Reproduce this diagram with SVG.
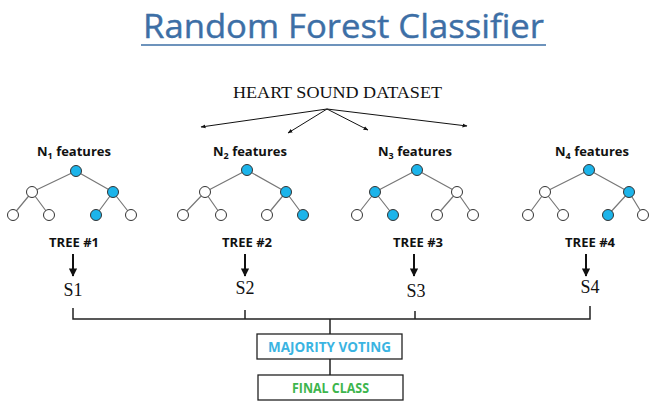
<svg xmlns="http://www.w3.org/2000/svg" width="651" height="403" viewBox="0 0 651 403">
<style>
.title{font-family:"Open Sans","Liberation Sans",sans-serif;font-size:33px;fill:#3d6fa6;stroke:#3d6fa6;stroke-width:0.4}
.serif{font-family:"Liberation Serif",serif;fill:#111}
.lbl{font-family:"Open Sans","Liberation Sans",sans-serif;font-weight:bold;font-size:13px;fill:#111}
.tl{font-family:"Open Sans","Liberation Sans",sans-serif;font-weight:bold;font-size:12.5px;fill:#111}
.e{stroke:#777;stroke-width:1.2}
.w{fill:#fff;stroke:#333;stroke-width:1}
.b{fill:#1cb4ea;stroke:#333;stroke-width:1}
.ln{stroke:#222;stroke-width:1.5;fill:none}
.box{fill:#fff;stroke:#222;stroke-width:1.3}
.bt{font-family:"Open Sans","Liberation Sans",sans-serif;font-weight:bold;font-size:13.5px}
</style>
<defs>
<marker id="sm" viewBox="0 0 10 10" refX="9" refY="5" markerWidth="5" markerHeight="5" orient="auto"><path d="M0,1 L10,5 L0,9 z" fill="#111"/></marker>
<marker id="big" viewBox="0 0 10 10" refX="9" refY="5" markerWidth="4.2" markerHeight="4.2" orient="auto"><path d="M0,0 L10,5 L0,10 z" fill="#111"/></marker>
</defs>
<rect width="651" height="403" fill="#fff"/>
<g id="title">
<text class="title" x="143" y="38" textLength="401" lengthAdjust="spacingAndGlyphs">Random Forest Classifier</text>
<line x1="141" y1="45" x2="546" y2="45" stroke="#3d6fa6" stroke-width="1.5"/>
</g>
<g id="dataset"><text class="serif" x="233" y="98" font-size="16.5" textLength="209" lengthAdjust="spacingAndGlyphs">HEART SOUND DATASET</text></g>
<g id="connectors">
<g fill="none" stroke="#111" stroke-width="1">
<line x1="327" y1="109" x2="201" y2="127" marker-end="url(#sm)"/>
<line x1="327" y1="109" x2="288" y2="133" marker-end="url(#sm)"/>
<line x1="327" y1="109" x2="368" y2="130" marker-end="url(#sm)"/>
<line x1="327" y1="109" x2="467" y2="126" marker-end="url(#sm)"/>
</g>
<g stroke="#111" stroke-width="2">
<line x1="73" y1="254" x2="73" y2="276" marker-end="url(#big)"/>
<line x1="245" y1="254" x2="245" y2="276" marker-end="url(#big)"/>
<line x1="414" y1="254" x2="414" y2="276" marker-end="url(#big)"/>
<line x1="586" y1="254" x2="586" y2="276" marker-end="url(#big)"/>
</g>
<path class="ln" d="M73,308 V319 H590 V306 M245,310 V319 M415,311 V319 M330,319 V334 M330,359 V375"/>
</g>
<g id="tree1">
<text class="lbl" x="74" y="156" text-anchor="middle">N<tspan font-size="9" dy="3">1</tspan><tspan dy="-3"> features</tspan></text>
<path class="e" d="M76,171 L32,192 M76,171 L113,192 M32,192 L13,215 M32,192 L49,215 M113,192 L96,215 M113,192 L131,215"/>
<circle class="b" cx="76" cy="171" r="5.5"/><circle class="w" cx="32" cy="192" r="5.5"/><circle class="b" cx="113" cy="192" r="5.5"/>
<circle class="w" cx="13" cy="215" r="5.5"/><circle class="w" cx="49" cy="215" r="5.5"/><circle class="b" cx="96" cy="215" r="5.5"/><circle class="w" cx="131" cy="215" r="5.5"/>
</g>
<g id="tree2">
<text class="lbl" x="250" y="156" text-anchor="middle">N<tspan font-size="9" dy="3">2</tspan><tspan dy="-3"> features</tspan></text>
<path class="e" d="M247,170 L205,192 M247,170 L286,192 M205,192 L183,215 M205,192 L221,215 M286,192 L267,215 M286,192 L303,215"/>
<circle class="b" cx="247" cy="170" r="5.5"/><circle class="w" cx="205" cy="192" r="5.5"/><circle class="b" cx="286" cy="192" r="5.5"/>
<circle class="w" cx="183" cy="215" r="5.5"/><circle class="w" cx="221" cy="215" r="5.5"/><circle class="w" cx="267" cy="215" r="5.5"/><circle class="b" cx="303" cy="215" r="5.5"/>
</g>
<g id="tree3">
<text class="lbl" x="415" y="156" text-anchor="middle">N<tspan font-size="9" dy="3">3</tspan><tspan dy="-3"> features</tspan></text>
<path class="e" d="M417,170 L375,192 M417,170 L457,192 M375,192 L357,215 M375,192 L393,215 M457,192 L437,215 M457,192 L473,215"/>
<circle class="b" cx="417" cy="170" r="5.5"/><circle class="b" cx="375" cy="192" r="5.5"/><circle class="w" cx="457" cy="192" r="5.5"/>
<circle class="w" cx="357" cy="215" r="5.5"/><circle class="b" cx="393" cy="215" r="5.5"/><circle class="w" cx="437" cy="215" r="5.5"/><circle class="w" cx="473" cy="215" r="5.5"/>
</g>
<g id="tree4">
<text class="lbl" x="592" y="156" text-anchor="middle">N<tspan font-size="9" dy="3">4</tspan><tspan dy="-3"> features</tspan></text>
<path class="e" d="M589,170 L545,192 M589,170 L629,192 M545,192 L528,215 M545,192 L563,215 M629,192 L608,215 M629,192 L643,215"/>
<circle class="b" cx="589" cy="170" r="5.5"/><circle class="w" cx="545" cy="192" r="5.5"/><circle class="b" cx="629" cy="192" r="5.5"/>
<circle class="w" cx="528" cy="215" r="5.5"/><circle class="w" cx="563" cy="215" r="5.5"/><circle class="b" cx="608" cy="215" r="5.5"/><circle class="w" cx="643" cy="215" r="5.5"/>
</g>
<g id="labels">
<text class="tl" x="49" y="247" textLength="50" lengthAdjust="spacingAndGlyphs">TREE #1</text>
<text class="tl" x="222" y="247" textLength="50" lengthAdjust="spacingAndGlyphs">TREE #2</text>
<text class="tl" x="393" y="247" textLength="50" lengthAdjust="spacingAndGlyphs">TREE #3</text>
<text class="tl" x="565" y="247" textLength="50" lengthAdjust="spacingAndGlyphs">TREE #4</text>
<text class="serif" x="73" y="296" font-size="18" text-anchor="middle">S1</text>
<text class="serif" x="245" y="294" font-size="18" text-anchor="middle">S2</text>
<text class="serif" x="416" y="297" font-size="18" text-anchor="middle">S3</text>
<text class="serif" x="590" y="293" font-size="18" text-anchor="middle">S4</text>
</g>
<g id="majority">
<rect class="box" x="257" y="334" width="145" height="25"/>
<text class="bt" x="268" y="351.5" fill="#3ab4e2" textLength="123" lengthAdjust="spacingAndGlyphs">MAJORITY VOTING</text>
</g>
<g id="final">
<rect class="box" x="258" y="375" width="145" height="25"/>
<text class="bt" x="292" y="392.5" fill="#3db54d" textLength="77" lengthAdjust="spacingAndGlyphs">FINAL CLASS</text>
</g>
</svg>
